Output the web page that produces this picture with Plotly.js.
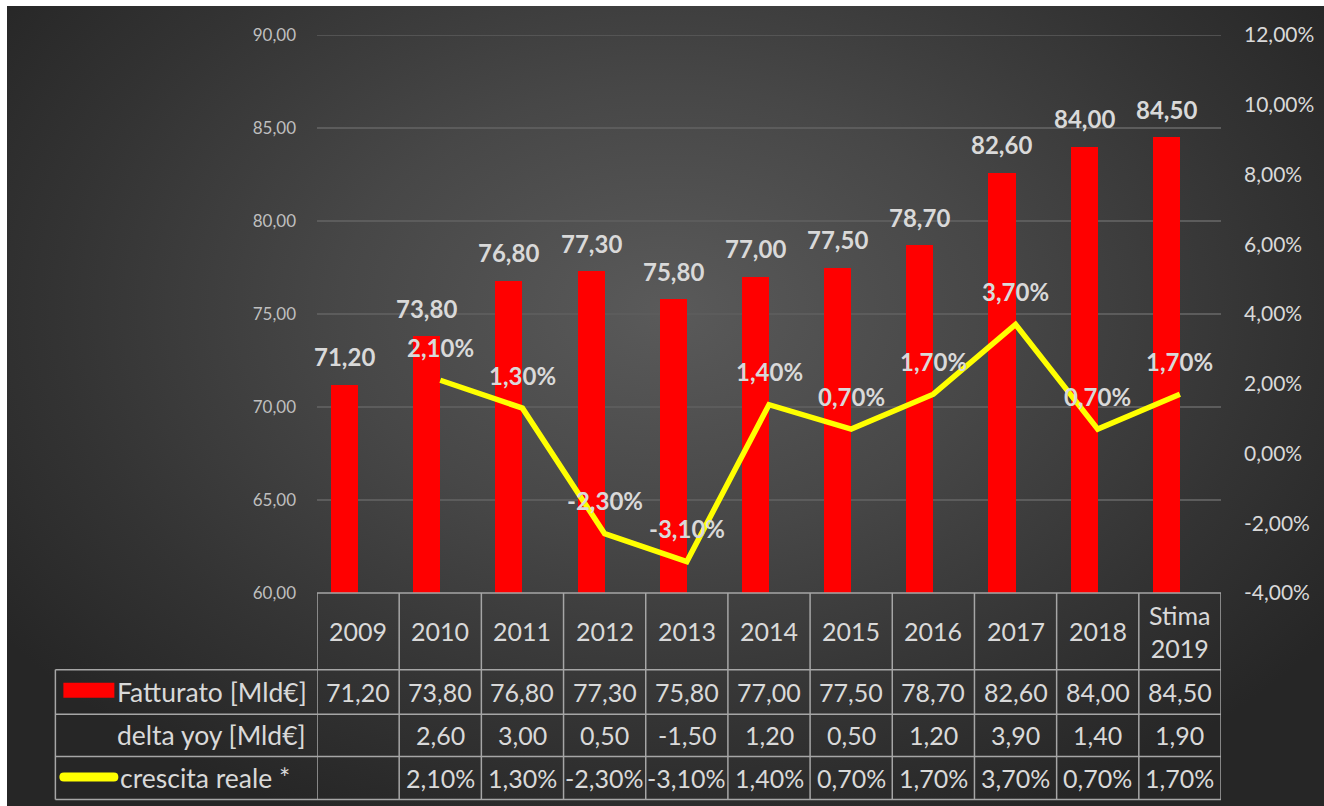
<!DOCTYPE html>
<html>
<head>
<meta charset="utf-8">
<script src="https://cdn.plot.ly/plotly-3.0.1.min.js"></script>
<style>
  html, body { margin:0; padding:0; background:#ffffff; width:1324px; height:806px; overflow:hidden; }
  #bg { position:absolute; left:7px; top:6px; width:1317px; height:800px;
        background: radial-gradient(ellipse 62% 70% at 50% 38%, #5a5a5a 0%, #474747 40%, #333333 75%, #262626 100%); }
  #chart { position:absolute; left:0; top:0; width:1324px; height:806px; }
</style>
</head>
<body>
<div id="bg"></div>
<div id="chart"></div>
<script>
// ---- data ----
const categories = ['2009','2010','2011','2012','2013','2014','2015','2016','2017','2018','Stima 2019'];
const headerLabels = ['2009','2010','2011','2012','2013','2014','2015','2016','2017','2018','Stima<br>2019'];
const fatturato = [71.2, 73.8, 76.8, 77.3, 75.8, 77.0, 77.5, 78.7, 82.6, 84.0, 84.5];
const deltaYoy = [null, 2.6, 3.0, 0.5, -1.5, 1.2, 0.5, 1.2, 3.9, 1.4, 1.9];
const crescitaReale = [null, 0.021, 0.013, -0.023, -0.031, 0.014, 0.007, 0.017, 0.037, 0.007, 0.017];
const rowLabels = ['Fatturato [Mld€]', 'delta yoy [Mld€]', 'crescita reale *'];
const leftTicks = [60, 65, 70, 75, 80, 85, 90];
const rightTicks = [-0.04, -0.02, 0, 0.02, 0.04, 0.06, 0.08, 0.10, 0.12];

// ---- helpers ----
const fmt = v => v.toFixed(2).replace('.', ',');
const fmtPct = v => (v * 100).toFixed(2).replace('.', ',') + '%';
const FONT = 'Lato, "Open Sans", sans-serif';
const TXT = '#d9d9d9';
const LINE = '#a6a6a6';
const TBL = 25;

// plot area geometry (px) used to convert table rows to paper coords
const plotTop = 35, plotBottom = 593.3, plotLeft = 316.7, plotRight = 1221;
const ph = plotBottom - plotTop, pw = plotRight - plotLeft;
const py = p => (plotBottom - p) / ph;
const px = p => (p - plotLeft) / pw;
const idx = categories.map((c, i) => i);

const traces = [
  {
    type: 'bar', x: categories, y: fatturato, name: 'Fatturato [Mld€]',
    marker: { color: '#ff0000' }, width: 0.33, offset: -0.33,
    hoverinfo: 'skip'
  },
  {
    type: 'scatter', mode: 'lines', x: categories, y: crescitaReale, yaxis: 'y2',
    name: 'crescita reale *', line: { color: '#ffff00', width: 5.5 },
    connectgaps: false, hoverinfo: 'skip'
  }
];

const annotations = [];
const shapes = [];

// bar data labels
idx.forEach(i => {
  annotations.push({
    x: i, y: fatturato[i], xref: 'x', yref: 'y', showarrow: false,
    text: '<b>' + fmt(fatturato[i]) + '</b>', yshift: 28, xshift: -13.6,
    font: { family: FONT, size: 24, color: TXT }
  });
});
// line data labels
idx.forEach(i => {
  if (crescitaReale[i] === null) return;
  annotations.push({
    x: i, y: crescitaReale[i], xref: 'x', yref: 'y2', showarrow: false,
    text: '<b>' + fmtPct(crescitaReale[i]) + '</b>', yshift: 33,
    font: { family: FONT, size: 24, color: TXT }
  });
});

// ---- data table ----
const rowCenters = [py(692), py(735.5), py(778.5)];
const headerCenter = py(631.5);
idx.forEach(i => {
  annotations.push({ x: i, y: headerCenter, xref: 'x', yref: 'paper', showarrow: false,
    text: headerLabels[i], font: { family: FONT, size: TBL, color: TXT }, yanchor: 'middle' });
  annotations.push({ x: i, y: rowCenters[0], xref: 'x', yref: 'paper', showarrow: false,
    text: fmt(fatturato[i]), font: { family: FONT, size: TBL, color: TXT }, yanchor: 'middle' });
  if (deltaYoy[i] !== null)
    annotations.push({ x: i, y: rowCenters[1], xref: 'x', yref: 'paper', showarrow: false,
      text: fmt(deltaYoy[i]), font: { family: FONT, size: TBL, color: TXT }, yanchor: 'middle' });
  if (crescitaReale[i] !== null)
    annotations.push({ x: i, y: rowCenters[2], xref: 'x', yref: 'paper', showarrow: false,
      text: fmtPct(crescitaReale[i]), font: { family: FONT, size: TBL, color: TXT }, yanchor: 'middle' });
});
// row labels
annotations.push({ x: px(309), y: rowCenters[0], xref: 'paper', yref: 'paper', showarrow: false,
  xanchor: 'right', yanchor: 'middle', text: rowLabels[0], font: { family: FONT, size: 26.5, color: TXT } });
annotations.push({ x: px(308), y: rowCenters[1], xref: 'paper', yref: 'paper', showarrow: false,
  xanchor: 'right', yanchor: 'middle', text: rowLabels[1], font: { family: FONT, size: 26.5, color: TXT } });
annotations.push({ x: px(118), y: rowCenters[2], xref: 'paper', yref: 'paper', showarrow: false,
  xanchor: 'left', yanchor: 'middle', text: rowLabels[2], font: { family: FONT, size: 26.5, color: TXT } });

// legend keys
shapes.push({ type: 'rect', xref: 'paper', yref: 'paper', x0: px(63), x1: px(114),
  y0: py(698), y1: py(683), fillcolor: '#ff0000', line: { width: 0 } });
(function () {
  const x0 = px(59), x1 = px(118), y0 = py(782), y1 = py(773), ym = (y0 + y1) / 2;
  const rx = 4.5 / pw;
  const path = `M ${x0 + rx} ${y0} L ${x1 - rx} ${y0} Q ${x1} ${y0} ${x1} ${ym} Q ${x1} ${y1} ${x1 - rx} ${y1} ` +
               `L ${x0 + rx} ${y1} Q ${x0} ${y1} ${x0} ${ym} Q ${x0} ${y0} ${x0 + rx} ${y0} Z`;
  shapes.push({ type: 'path', xref: 'paper', yref: 'paper', path: path, fillcolor: '#ffff00', line: { width: 0 } });
})();

// top gridline (range edge)
shapes.push({ type: 'line', xref: 'paper', yref: 'y', x0: 0, x1: 1,
  y0: leftTicks[leftTicks.length - 1], y1: leftTicks[leftTicks.length - 1],
  line: { color: '#5c5c5c', width: 1.3 }, layer: 'below' });

// table grid lines
const hLines = [
  { y: 593.3, x0: plotLeft }, { y: 670, x0: 55 }, { y: 714.5, x0: 55 },
  { y: 757, x0: 55 }, { y: 800, x0: 55 }
];
hLines.forEach(h => shapes.push({ type: 'line', xref: 'paper', yref: 'paper',
  x0: px(h.x0), x1: 1, y0: py(h.y), y1: py(h.y), line: { color: LINE, width: 1.5 } }));
for (let i = 0; i <= categories.length; i++) {
  shapes.push({ type: 'line', xref: 'x', yref: 'paper', x0: i - 0.5, x1: i - 0.5,
    y0: 0, y1: py(800), line: { color: LINE, width: 1.5 } });
}
shapes.push({ type: 'line', xref: 'paper', yref: 'paper', x0: px(55), x1: px(55),
  y0: py(670), y1: py(800), line: { color: LINE, width: 1.5 } });

const layout = {
  width: 1324, height: 806,
  margin: { l: plotLeft, r: 1324 - plotRight, t: plotTop, b: 806 - plotBottom, pad: 0 },
  paper_bgcolor: 'rgba(0,0,0,0)', plot_bgcolor: 'rgba(0,0,0,0)',
  separators: ',.',
  showlegend: false,
  xaxis: { type: 'category', range: [-0.5, 10.5], showticklabels: false, showgrid: false,
    zeroline: false, showline: false, fixedrange: true },
  yaxis: { range: [60, 90], tickvals: leftTicks, ticktext: leftTicks.map(fmt), showgrid: true,
    gridcolor: '#5c5c5c', gridwidth: 1.3, zeroline: false, showline: false, ticks: '',
    ticklabelstandoff: 20, tickfont: { family: FONT, size: 17, color: '#bfbfbf' } },
  yaxis2: { range: [-0.04, 0.12], tickvals: rightTicks, ticktext: rightTicks.map(fmtPct), overlaying: 'y',
    side: 'right', showgrid: false, zeroline: false, showline: false, ticks: '',
    ticklabelstandoff: 22, tickfont: { family: FONT, size: 21, color: TXT } },
  annotations: annotations,
  shapes: shapes,
  bargap: 0
};

Plotly.newPlot('chart', traces, layout, { displayModeBar: false, staticPlot: true });
</script>
</body>
</html>
